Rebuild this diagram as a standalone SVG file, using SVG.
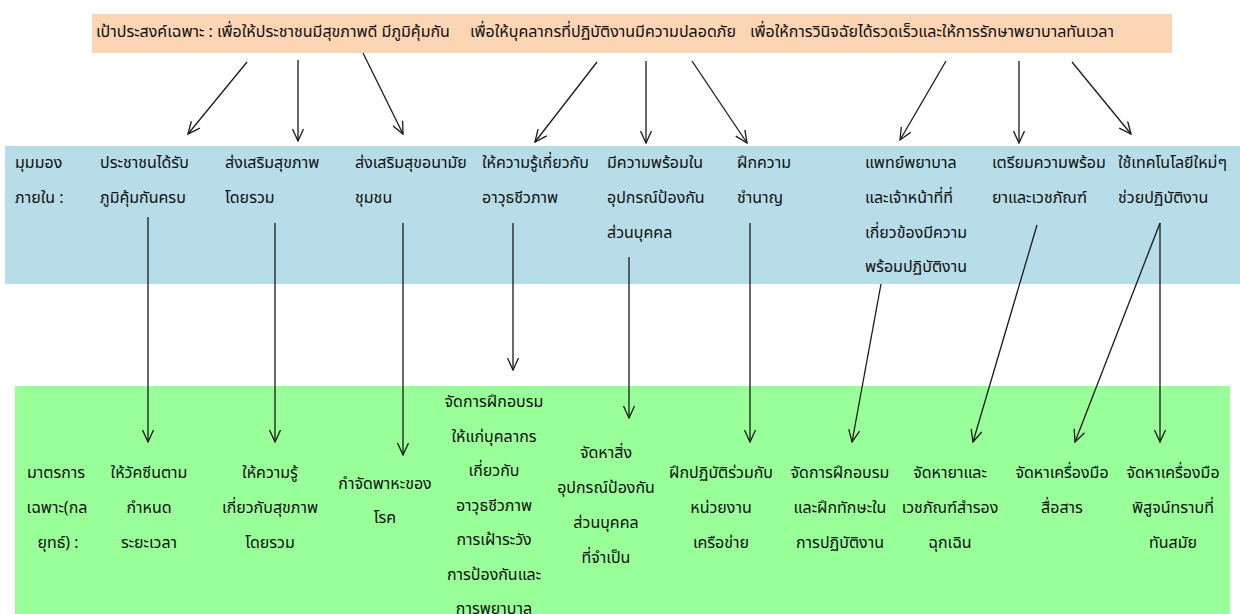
<svg xmlns="http://www.w3.org/2000/svg" width="1240" height="614" viewBox="0 0 1240 614">
<defs>
<marker id="ah" viewBox="0 0 14 12" refX="13" refY="6" markerWidth="14" markerHeight="12" markerUnits="userSpaceOnUse" orient="auto">
<path d="M1,0.5 L13,6 L1,11.5" fill="none" stroke="#1a1a1a" stroke-width="1.3"/>
</marker>
<style>
text{font-family:"Noto Sans Thai","Tahoma","DejaVu Sans","Liberation Sans",sans-serif;font-size:16px;fill:#111111}
.c{text-anchor:middle}
.con line{stroke:#1a1a1a;stroke-width:1.3;marker-end:url(#ah)}
</style>
</defs>
<rect x="0" y="0" width="1240" height="614" fill="#ffffff"/>
<g id="goal">
<rect x="92" y="14" width="1080" height="39" fill="#FCD5B4"/>
<text x="96" y="37">เป้าประสงค์เฉพาะ : เพื่อให้ประชาชนมีสุขภาพดี มีภูมิคุ้มกัน</text>
<text x="470" y="37">เพื่อให้บุคลากรที่ปฏิบัติงานมีความปลอดภัย</text>
<text x="750" y="37">เพื่อให้การวินิจฉัยได้รวดเร็วและให้การรักษาพยาบาลทันเวลา</text>
</g>
<rect id="band-internal" x="5" y="146" width="1235" height="138" fill="#B7DDE8"/>
<rect id="band-measures" x="15" y="386" width="1215" height="228" fill="#99FF99"/>
<g id="internal-label"><text x="15" y="168">มุมมอง</text><text x="15" y="203">ภายใน :</text></g>
<g id="i1"><text x="100" y="168">ประชาชนได้รับ</text><text x="100" y="203">ภูมิคุ้มกันครบ</text></g>
<g id="i2"><text x="225" y="168">ส่งเสริมสุขภาพ</text><text x="225" y="203">โดยรวม</text></g>
<g id="i3"><text x="355" y="168">ส่งเสริมสุขอนามัย</text><text x="355" y="203">ชุมชน</text></g>
<g id="i4"><text x="482" y="168">ให้ความรู้เกี่ยวกับ</text><text x="482" y="203">อาวุธชีวภาพ</text></g>
<g id="i5"><text x="607" y="168">มีความพร้อมใน</text><text x="607" y="203">อุปกรณ์ป้องกัน</text><text x="607" y="238">ส่วนบุคคล</text></g>
<g id="i6"><text x="737" y="168">ฝึกความ</text><text x="737" y="203">ชำนาญ</text></g>
<g id="i7"><text x="865" y="168">แพทย์พยาบาล</text><text x="865" y="203">และเจ้าหน้าที่ที่</text><text x="865" y="238">เกี่ยวข้องมีความ</text><text x="865" y="272">พร้อมปฏิบัติงาน</text></g>
<g id="i8"><text x="992" y="168">เตรียมความพร้อม</text><text x="992" y="203">ยาและเวชภัณฑ์</text></g>
<g id="i9"><text x="1118" y="168">ใช้เทคโนโลยีใหม่ๆ</text><text x="1118" y="203">ช่วยปฏิบัติงาน</text></g>
<g id="measures-label"><text class="c" x="56" y="478">มาตรการ</text><text class="c" x="57" y="513">เฉพาะ(กล</text><text class="c" x="58" y="548">ยุทธ์) :</text></g>
<g id="m1"><text class="c" x="149" y="478">ให้วัคซีนตาม</text><text class="c" x="149" y="513">กำหนด</text><text class="c" x="149" y="548">ระยะเวลา</text></g>
<g id="m2"><text class="c" x="270" y="478">ให้ความรู้</text><text class="c" x="270" y="513">เกี่ยวกับสุขภาพ</text><text class="c" x="270" y="548">โดยรวม</text></g>
<g id="m3"><text class="c" x="385" y="489">กำจัดพาหะของ</text><text class="c" x="385" y="523">โรค</text></g>
<g id="m4"><text class="c" x="494" y="407">จัดการฝึกอบรม</text><text class="c" x="494" y="442">ให้แก่บุคลากร</text><text class="c" x="494" y="476">เกี่ยวกับ</text><text class="c" x="494" y="511">อาวุธชีวภาพ</text><text class="c" x="494" y="545">การเฝ้าระวัง</text><text class="c" x="494" y="580">การป้องกันและ</text><text class="c" x="494" y="614">การพยาบาล</text></g>
<g id="m5"><text class="c" x="606" y="458">จัดหาสิ่ง</text><text class="c" x="606" y="493">อุปกรณ์ป้องกัน</text><text class="c" x="606" y="528">ส่วนบุคคล</text><text class="c" x="606" y="563">ที่จำเป็น</text></g>
<g id="m6"><text class="c" x="721" y="478">ฝึกปฏิบัติร่วมกับ</text><text class="c" x="721" y="513">หน่วยงาน</text><text class="c" x="721" y="548">เครือข่าย</text></g>
<g id="m7"><text class="c" x="840" y="478">จัดการฝึกอบรม</text><text class="c" x="840" y="513">และฝึกทักษะใน</text><text class="c" x="840" y="548">การปฏิบัติงาน</text></g>
<g id="m8"><text class="c" x="950" y="478">จัดหายาและ</text><text class="c" x="950" y="513">เวชภัณฑ์สำรอง</text><text class="c" x="950" y="548">ฉุกเฉิน</text></g>
<g id="m9"><text class="c" x="1062" y="478">จัดหาเครื่องมือ</text><text class="c" x="1062" y="513">สื่อสาร</text></g>
<g id="m10"><text class="c" x="1173" y="478">จัดหาเครื่องมือ</text><text class="c" x="1173" y="513">พิสูจน์ทราบที่</text><text class="c" x="1173" y="548">ทันสมัย</text></g>
<g id="connectors" class="con">
<line x1="247" y1="62" x2="188" y2="134"/>
<line x1="298" y1="60" x2="298" y2="141"/>
<line x1="363" y1="53" x2="403" y2="134"/>
<line x1="597" y1="62" x2="535" y2="142"/>
<line x1="646" y1="61" x2="646" y2="143"/>
<line x1="692" y1="61" x2="747" y2="143"/>
<line x1="946" y1="61" x2="900" y2="140"/>
<line x1="1019" y1="61" x2="1019" y2="143"/>
<line x1="1072" y1="62" x2="1131" y2="134"/>
<line x1="148" y1="217" x2="148" y2="442"/>
<line x1="275" y1="223" x2="275" y2="442"/>
<line x1="403" y1="223" x2="403" y2="455"/>
<line x1="513" y1="223" x2="513" y2="370"/>
<line x1="629" y1="257" x2="629" y2="418"/>
<line x1="750" y1="223" x2="750" y2="442"/>
<line x1="881" y1="284" x2="852" y2="442"/>
<line x1="1037" y1="225" x2="973" y2="442"/>
<line x1="1160" y1="223" x2="1160" y2="442"/>
<line x1="1160" y1="223" x2="1075" y2="442"/>
</g>
</svg>
